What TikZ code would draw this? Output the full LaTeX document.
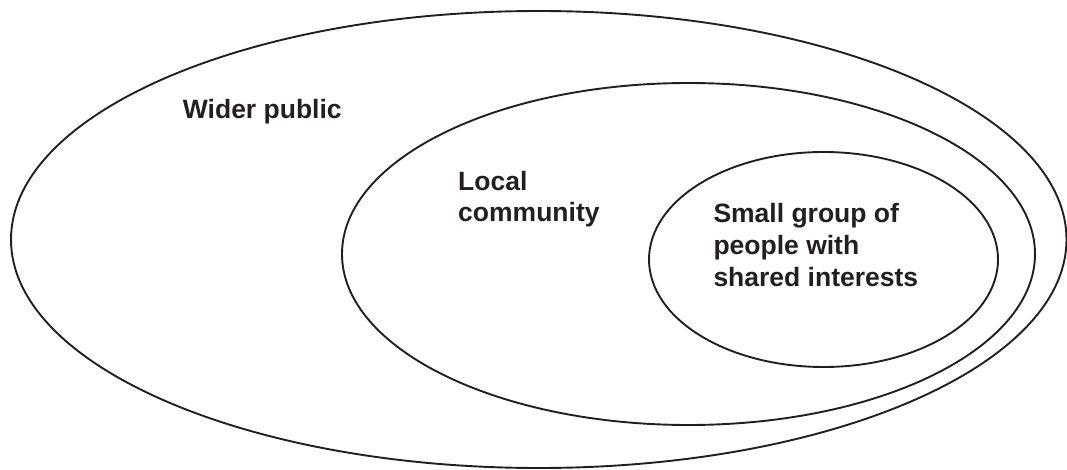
\documentclass[tikz,border=0pt]{standalone}
\usepackage{fontspec}
\setmainfont{Liberation Sans}
\usetikzlibrary{shapes.geometric}
\definecolor{ink}{HTML}{231F20}
\begin{document}
\begin{tikzpicture}[x=1pt,y=-1pt,
  ring/.style={draw=ink, line width=1.9pt, ellipse, inner sep=0pt},
  label/.style={text=ink, font=\fontsize{26.5}{31.8}\selectfont\bfseries, anchor=base west, inner sep=0pt, align=left}]
  \useasboundingbox (0,0) rectangle (1067,470);
  % nested circles of audience
  \node[ring, minimum width=1055.5pt, minimum height=457pt] (outer) at (538.75,239.5) {};
  \node[ring, minimum width=693pt, minimum height=342pt] (middle) at (688.5,254) {};
  \node[ring, minimum width=349pt, minimum height=215pt] (inner) at (823.5,259.5) {};
  % labels (base anchor sits on the last line)
  \node[label] (wider) at (182.7,118.3) {Wider public};
  \node[label] (local) at (458,222) {Local\\community};
  \node[label] (small) at (713.3,286) {Small group of\\people with\\shared interests};
\end{tikzpicture}
\end{document}
